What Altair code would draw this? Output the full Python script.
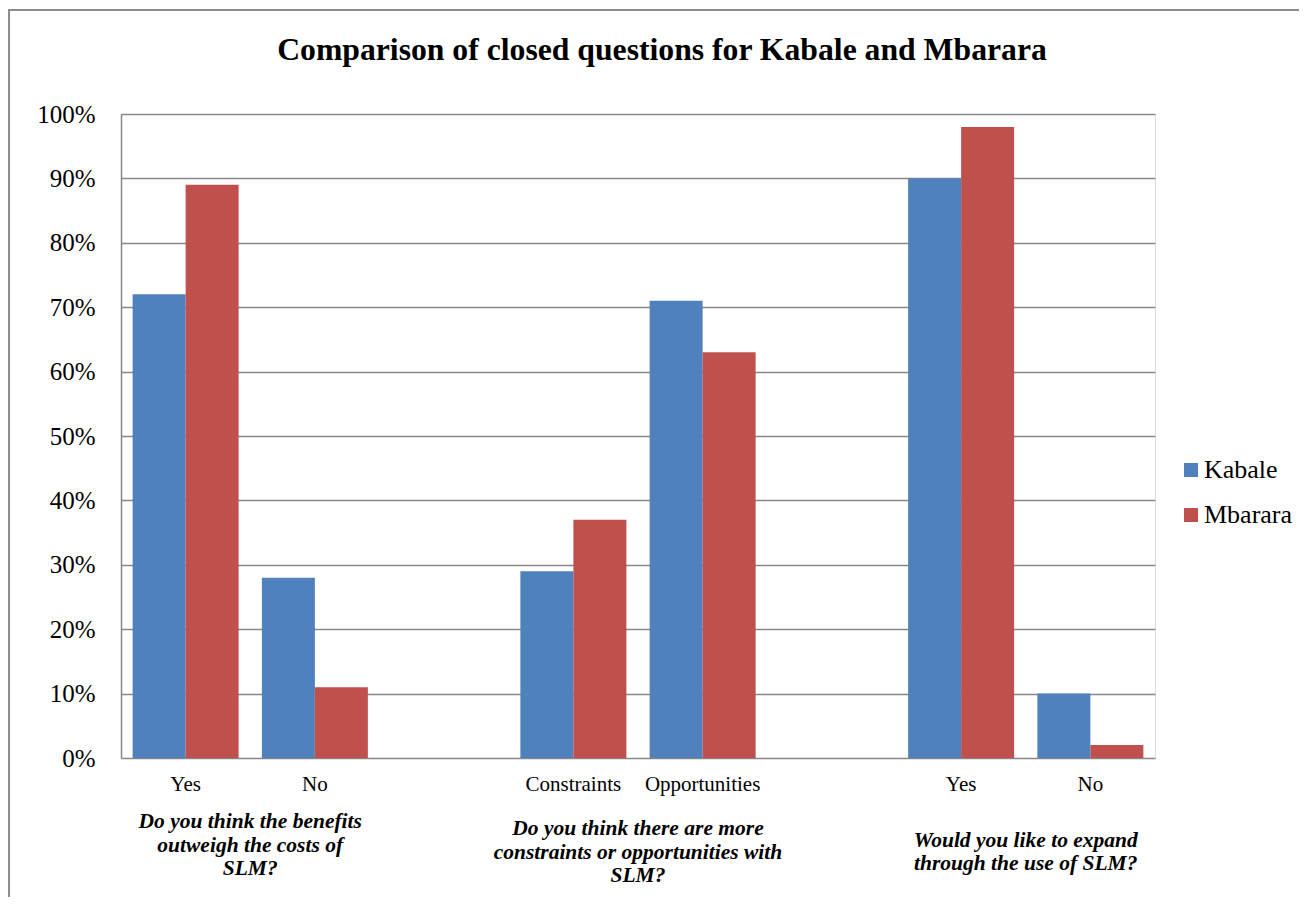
import altair as alt
import pandas as pd

# ---- data ----
categories = ["Yes", "No", " ", "Constraints", "Opportunities", "  ", "Yes ", "No "]
bar_categories = ["Yes", "No", "Constraints", "Opportunities", "Yes ", "No "]
series = ["Kabale", "Mbarara"]
kabale = [0.72, 0.28, 0.29, 0.71, 0.90, 0.10]
mbarara = [0.89, 0.11, 0.37, 0.63, 0.98, 0.02]
group_first = ["Yes", "Constraints", "Yes "]
group_labels = [
    "Do you think the benefits\noutweigh the costs of\nSLM?",
    "Do you think there are more\nconstraints or opportunities with\nSLM?",
    "Would you like to expand\nthrough the use of SLM?",
]
y_ticks = [0, 0.1, 0.2, 0.3, 0.4, 0.5, 0.6, 0.7, 0.8, 0.9, 1.0]
title_text = "Comparison of closed questions for Kabale and Mbarara"

rows = []
for c, k, m in zip(bar_categories, kabale, mbarara):
    rows.append({"cat": c, "series": "Kabale", "value": k})
    rows.append({"cat": c, "series": "Mbarara", "value": m})
df = pd.DataFrame(rows)
gdf = pd.DataFrame({"cat": group_first, "label": group_labels, "g": [1, 2, 3]})

FONT = "Liberation Serif"
GRID = "#878787"
W, H = 1034, 644
PL, PT = 113, 106

xscale = alt.Scale(domain=categories, paddingInner=0.18, paddingOuter=0.09)

bars = alt.Chart(df).mark_bar().encode(
    x=alt.X("cat:N", scale=xscale, sort=categories, title=None,
            axis=alt.Axis(labelAngle=0, ticks=False, domain=False, labelFont=FONT,
                          labelFontSize=21, labelColor="#000000", labelPadding=15,
                          labelBaseline="top")),
    xOffset=alt.XOffset("series:N", scale=alt.Scale(domain=series, paddingInner=0, paddingOuter=0)),
    y=alt.Y("value:Q", scale=alt.Scale(domain=[0, 1]), title=None,
            axis=alt.Axis(values=y_ticks, format=".0%", ticks=False, domain=True,
                          domainColor=GRID, domainWidth=1.5, gridColor=GRID, gridWidth=1.5,
                          labelFont=FONT, labelFontSize=25, labelColor="#000000",
                          labelPadding=26)),
    color=alt.Color("series:N", scale=alt.Scale(domain=series, range=["#4F81BD", "#C0504D"]),
                    legend=alt.Legend(title=None, orient="none", legendX=1057, legendY=343,
                                      symbolType="square", symbolSize=196, symbolStrokeWidth=0,
                                      labelFont=FONT, labelFontSize=26, labelColor="#000000",
                                      labelOffset=0, rowPadding=19)),
)

def group_layer(flt, y, lh):
    return alt.Chart(gdf).transform_filter(flt).mark_text(
        font=FONT, fontSize=21.5, fontWeight="bold", fontStyle="italic", align="center",
        baseline="middle", lineBreak="\n", lineHeight=lh, dx=64.6, color="#000000"
    ).encode(x=alt.X("cat:N", scale=xscale, sort=categories), y=alt.value(y), text="label:N")

g1 = group_layer("datum.g == 1", 708, 23.5)
g2 = group_layer("datum.g == 2", 715, 23.5)
g3 = group_layer("datum.g == 3", 727, 22.5)

title = alt.Chart(alt.Data(values=[{"t": title_text}])).mark_text(
    font=FONT, fontSize=31.7, fontWeight="bold", color="#000000", align="center",
    baseline="alphabetic"
).encode(x=alt.value(541), y=alt.value(-54), text="t:N")

frame = alt.Chart(alt.Data(values=[{}])).mark_rect(
    fill=None, stroke="#8c8c8c", strokeWidth=2
).encode(x=alt.value(-112), x2=alt.value(1300), y=alt.value(-104), y2=alt.value(900))

chart = alt.layer(frame, bars, g1, g2, g3, title).properties(
    width=W, height=H,
    autosize=alt.AutoSizeParams(type="none"),
    padding={"left": PL, "top": PT, "right": 1291 - PL - W, "bottom": 889 - PT - H},
).configure_view(stroke=None).configure(background="white")

chart.save("out.html", embed_options={"renderer": "svg", "actions": False})
